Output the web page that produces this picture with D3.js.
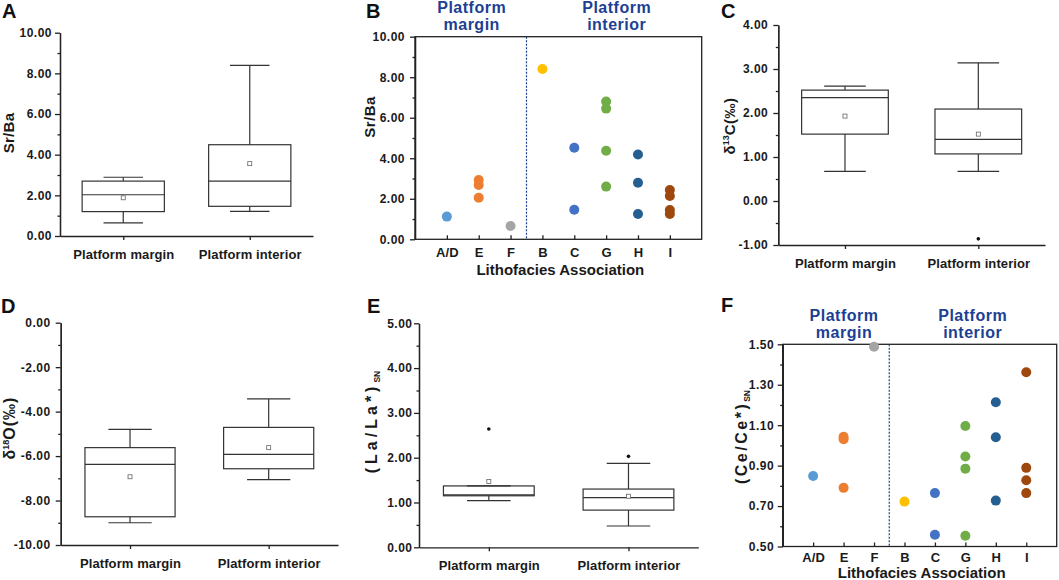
<!DOCTYPE html>
<html>
<head>
<meta charset="utf-8">
<script src="https://cdn.jsdelivr.net/npm/d3@7"></script>
<style>
  body { margin: 0; background: #fff; }
  text { font-family: Arial, "Liberation Sans", sans-serif; font-weight: bold; fill: #1a1a1a; }
  .tick text { font-size: 12px; letter-spacing: 0.5px; }
  .cat .tick text { font-size: 13px; letter-spacing: 0.1px; }
  .domain, .tick line { stroke: #222; stroke-width: 1.3; }
</style>
</head>
<body>
<svg id="fig" width="1059" height="580"></svg>
<script>
const boxCats = ['Platform margin', 'Platform interior'];
const lithoCats = ['A/D', 'E', 'F', 'B', 'C', 'G', 'H', 'I'];

// box stats per category: [min, q1, median, q3, max, mean]
const srBaStats = [[0.65, 1.2, 2.03, 2.7, 2.89, 1.88], [1.21, 1.46, 2.7, 4.49, 8.39, 3.56]];
const srBaOutliers = [[], []];
const d13cStats = [[0.675, 1.52, 2.35, 2.52, 2.61, 1.93], [0.675, 1.07, 1.40, 2.09, 3.14, 1.52]];
const d13cOutliers = [[], [-0.86]];
const d18oStats = [[-9.0, -8.73, -6.37, -5.62, -4.80, -6.93], [-7.06, -6.57, -5.92, -4.71, -3.43, -5.62]];
const d18oOutliers = [[], []];
const laStats = [[1.04, 1.15, 1.17, 1.37, 1.37, 1.47], [0.475, 0.83, 1.11, 1.30, 1.875, 1.14]];
const laOutliers = [[2.64], [2.03]];

// scatter values per lithofacies association
const srBaPoints = [[1.12], [2.93, 2.68, 2.05], [0.66], [8.41], [4.52, 1.46],
  [6.80, 6.45, 4.37, 2.60], [4.19, 2.79, 1.25], [2.43, 2.14, 1.45, 1.25]];
const ceCePoints = [[0.849], [1.043, 1.03, 0.79], [1.488], [0.722], [0.764, 0.558],
  [1.096, 0.945, 0.885, 0.553], [1.213, 1.04, 0.727], [1.362, 0.889, 0.828, 0.764]];

// tick labels
const srBaTicks = [0, 2, 4, 6, 8, 10];
const srBaMinor = [1, 3, 5, 7, 9];
const d13cTicks = [-1, 0, 1, 2, 3, 4];
const d13cMinor = [-0.5, 0.5, 1.5, 2.5, 3.5];
const d18oTicks = [-10, -8, -6, -4, -2, 0];
const d18oMinor = [-9, -7, -5, -3, -1];
const laTicks = [0, 1, 2, 3, 4, 5];
const laMinor = [0.5, 1.5, 2.5, 3.5, 4.5];
const ceTicks = [0.5, 0.7, 0.9, 1.1, 1.3, 1.5];
const ceMinor = [0.6, 0.8, 1.0, 1.2, 1.4];

const lithoColors = ['#5b9bd5', '#ed7d31', '#a5a5a5', '#ffc000', '#4472c4', '#70ad47', '#255e91', '#9e480e'];
const navy = '#1c3f94';

const svg = d3.select('#fig');

function panelLetter(t, x, y) {
  svg.append('text').attr('x', x).attr('y', y).attr('font-size', 20).style('fill', '#111').text(t);
}

function yLabel(parts, cx, cy, size) {
  const t = svg.append('text')
    .attr('transform', `translate(${cx + size * 0.35},${cy}) rotate(-90)`)
    .attr('text-anchor', 'middle')
    .attr('font-size', size);
  let shift = 0;
  parts.forEach(p => {
    const s = t.append('tspan').text(p.t);
    if (p.ls) s.style('letter-spacing', p.ls + 'px');
    let want = 0;
    if (p.sup) { s.attr('font-size', 9); want = -6; }
    if (p.sub) { s.attr('font-size', 8.5); want = 3; }
    if (want !== shift) { s.attr('dy', want - shift); shift = want; }
  });
}

function yAxis(p, y) {
  svg.append('g').attr('transform', `translate(${p.x0},0)`)
    .call(d3.axisLeft(y).tickValues(p.minor).tickSize(2.5).tickSizeOuter(0).tickFormat(''));
  svg.append('g').attr('transform', `translate(${p.x0},0)`)
    .call(d3.axisLeft(y).tickValues(p.major).tickSize(5).tickSizeOuter(0)
      .tickPadding(p.pad).tickFormat(d => d.toFixed(2)));
}

function boxPanel(p) {
  const x = d3.scalePoint().domain(boxCats).range([p.x0, p.x1]).padding(0.5);
  const y = d3.scaleLinear().domain(p.domain).range([p.y1, p.y0]);
  const bw = (p.x1 - p.x0) * 0.325;
  const cap = bw * 0.48;

  yAxis(p, y);
  svg.append('g').attr('class', 'cat').attr('transform', `translate(0,${p.y1})`)
    .call(d3.axisBottom(x).tickSize(4).tickSizeOuter(0).tickPadding(9.5));

  const g = svg.append('g').attr('stroke', '#333').attr('stroke-width', 1.2).attr('fill', 'none');
  p.stats.forEach((s, i) => {
    const cx = x(boxCats[i]);
    const [mn, q1, md, q3, mx, mean] = s;
    g.append('line').attr('x1', cx).attr('x2', cx).attr('y1', y(mx)).attr('y2', y(q3));
    g.append('line').attr('x1', cx).attr('x2', cx).attr('y1', y(q1)).attr('y2', y(mn));
    [mx, mn].forEach(v => g.append('line')
      .attr('x1', cx - cap / 2).attr('x2', cx + cap / 2).attr('y1', y(v)).attr('y2', y(v)));
    g.append('rect').attr('x', cx - bw / 2).attr('y', y(q3))
      .attr('width', bw).attr('height', y(q1) - y(q3));
    g.append('line').attr('x1', cx - bw / 2).attr('x2', cx + bw / 2).attr('y1', y(md)).attr('y2', y(md));
    g.append('rect').attr('x', cx - 2).attr('y', y(mean) - 2).attr('width', 4).attr('height', 4)
      .attr('fill', '#fff').attr('stroke', '#666').attr('stroke-width', 0.8);
    p.outliers[i].forEach(v => svg.append('circle').attr('cx', cx).attr('cy', y(v))
      .attr('r', 1.8).attr('fill', '#111'));
  });

  panelLetter(p.letter, p.lx, p.ly);
  yLabel(p.label, p.labX, p.labY, p.labSize);
}

function scatterPanel(p) {
  const x = d3.scalePoint().domain(lithoCats).range([p.x0, p.x1]).padding(1);
  const y = d3.scaleLinear().domain(p.domain).range([p.y1, p.y0]);

  svg.append('rect').attr('x', p.x0).attr('y', p.y0)
    .attr('width', p.x1 - p.x0).attr('height', p.y1 - p.y0)
    .attr('fill', 'none').attr('stroke', '#222').attr('stroke-width', 1.3);

  const dx = (x('F') + x('B')) / 2;
  svg.append('line').attr('x1', dx).attr('x2', dx).attr('y1', p.y0).attr('y2', p.y1)
    .attr('stroke', navy).attr('stroke-width', 1.2).attr('stroke-dasharray', '2,1.5');

  yAxis(p, y);
  svg.append('g').attr('class', 'cat').attr('transform', `translate(0,${p.y1})`)
    .call(d3.axisBottom(x).tickSize(-4).tickSizeOuter(0).tickPadding(p.xpad))
    .select('.domain').remove();

  svg.append('text').attr('x', (p.x0 + p.x1) / 2 + 2).attr('y', p.titleY)
    .attr('text-anchor', 'middle').attr('font-size', 15).text('Lithofacies Association');

  p.points.forEach((vals, i) => {
    vals.forEach(v => svg.append('circle').attr('cx', x(lithoCats[i])).attr('cy', y(v))
      .attr('r', 5).attr('fill', lithoColors[i]));
  });

  [['Platform', 'margin', p.mX], ['Platform', 'interior', p.iX]].forEach(([a, b, cx]) => {
    const t = svg.append('text').attr('text-anchor', 'middle').attr('font-size', 16)
      .style('fill', navy).style('letter-spacing', '0.5px');
    t.append('tspan').attr('x', cx).attr('y', p.headY).text(a);
    t.append('tspan').attr('x', cx).attr('y', p.headY + 17).text(b);
  });

  panelLetter(p.letter, p.lx, p.ly);
  yLabel(p.label, p.labX, p.labY, p.labSize);
}

boxPanel({
  x0: 60, x1: 313, y0: 32.7, y1: 236, domain: [0, 10], pad: 3,
  major: srBaTicks, minor: srBaMinor, stats: srBaStats, outliers: srBaOutliers,
  letter: 'A', lx: 2, ly: 18, label: [{ t: 'Sr/Ba', ls: 0.3 }], labX: 9, labY: 133, labSize: 15
});

scatterPanel({
  x0: 415, x1: 701.7, y0: 36.7, y1: 239.3, domain: [0, 10], pad: 5, xpad: 8.8,
  major: srBaTicks, minor: srBaMinor, points: srBaPoints, titleY: 274.5,
  mX: 471.7, iX: 616.7, headY: 12.5,
  letter: 'B', lx: 366, ly: 18, label: [{ t: 'Sr/Ba', ls: 0.5 }], labX: 370, labY: 117, labSize: 15
});

boxPanel({
  x0: 778.3, x1: 1045, y0: 25, y1: 245, domain: [-1, 4], pad: 5,
  major: d13cTicks, minor: d13cMinor, stats: d13cStats, outliers: d13cOutliers,
  letter: 'C', lx: 721, ly: 18,
  label: [{ t: 'δ' }, { t: '13', sup: true }, { t: 'C(‰)', ls: 0.5 }], labX: 730, labY: 126, labSize: 15
});

boxPanel({
  x0: 60.7, x1: 338, y0: 322.7, y1: 545, domain: [-10, 0], pad: 5,
  major: d18oTicks, minor: d18oMinor, stats: d18oStats, outliers: d18oOutliers,
  letter: 'D', lx: 1, ly: 313,
  label: [{ t: 'δ' }, { t: '18', sup: true }, { t: 'O(‰)', ls: 1 }], labX: 9, labY: 428, labSize: 16
});

boxPanel({
  x0: 419, x1: 698.3, y0: 323.3, y1: 547.3, domain: [0, 5], pad: 1.5,
  major: laTicks, minor: laMinor, stats: laStats, outliers: laOutliers,
  letter: 'E', lx: 367, ly: 313,
  label: [{ t: '(La/La*)', ls: 4 }, { t: 'SN', sub: true }], labX: 371.5, labY: 422, labSize: 16
});

scatterPanel({
  x0: 782.7, x1: 1056.7, y0: 344.3, y1: 546.5, domain: [0.5, 1.5], pad: 3.5, xpad: 6,
  major: ceTicks, minor: ceMinor, points: ceCePoints, titleY: 577.5,
  mX: 844, iX: 972.7, headY: 320.7,
  letter: 'F', lx: 721, ly: 312,
  label: [{ t: '(Ce/Ce*)', ls: 2.5 }, { t: 'SN', sub: true }], labX: 741, labY: 437, labSize: 16
});
</script>
</body>
</html>
